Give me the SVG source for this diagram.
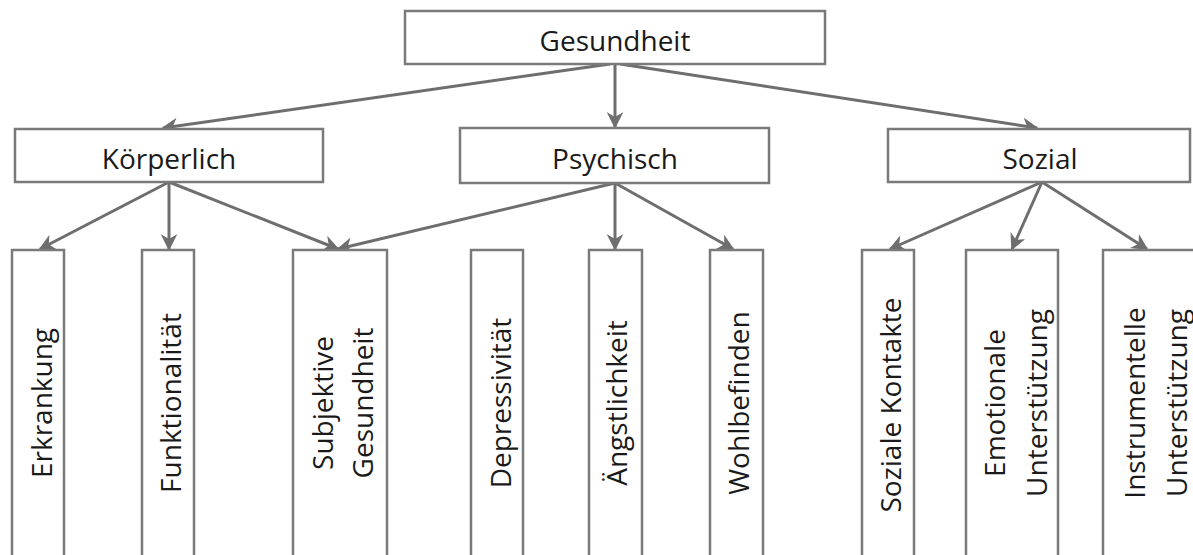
<svg xmlns="http://www.w3.org/2000/svg" width="1193" height="555" viewBox="0 0 1193 555">
<style>
.box{fill:#fff;stroke:#7a7a7a;stroke-width:2.5}
.t{font-family:"Open Sans","DejaVu Sans",sans-serif;font-size:28px;fill:#1a1a1a;text-anchor:middle;dominant-baseline:central}
.c{stroke:#6e6e6e;stroke-width:3;fill:none;marker-end:url(#ah)}
</style>
<defs>
<marker id="ah" viewBox="0 0 10 10" refX="9" refY="5" markerWidth="5.5" markerHeight="5.5" orient="auto" markerUnits="strokeWidth">
<path d="M0,0 L10,5 L0,10 L3,5 Z" fill="#6e6e6e"/>
</marker>
</defs>
<rect width="1193" height="555" fill="#fff"/>
<g id="connectors">
<line class="c" x1="615" y1="64" x2="615" y2="127"/>
<line class="c" x1="610" y1="64" x2="163" y2="128"/>
<line class="c" x1="620" y1="64" x2="1037" y2="128"/>
<line class="c" x1="169" y1="182" x2="40" y2="249"/>
<line class="c" x1="169" y1="182" x2="169" y2="249"/>
<line class="c" x1="169" y1="182" x2="338" y2="249"/>
<line class="c" x1="615" y1="183" x2="338" y2="249"/>
<line class="c" x1="615" y1="183" x2="615" y2="249"/>
<line class="c" x1="615" y1="183" x2="733" y2="249"/>
<line class="c" x1="1042" y1="182" x2="890" y2="249"/>
<line class="c" x1="1042" y1="182" x2="1012" y2="249"/>
<line class="c" x1="1042" y1="182" x2="1147" y2="249"/>
</g>
<g id="gesundheit"><rect class="box" x="405" y="11" width="420" height="53"/><text class="t" x="615" y="40">Gesundheit</text></g>
<g id="koerperlich"><rect class="box" x="15" y="129" width="308" height="53"/><text class="t" x="169" y="158">Körperlich</text></g>
<g id="psychisch"><rect class="box" x="460" y="128" width="309" height="55"/><text class="t" x="615" y="158">Psychisch</text></g>
<g id="sozial"><rect class="box" x="888" y="129" width="302" height="53"/><text class="t" x="1040" y="158">Sozial</text></g>
<g id="erkrankung"><rect class="box" x="12" y="250" width="52" height="320"/><text class="t" transform="translate(41,403) rotate(-90)">Erkrankung</text></g>
<g id="funktionalitaet"><rect class="box" x="142" y="250" width="52" height="320"/><text class="t" transform="translate(170,403) rotate(-90)">Funktionalität</text></g>
<g id="subjektive"><rect class="box" x="293" y="250" width="94" height="320"/><text class="t" transform="translate(322,403) rotate(-90)">Subjektive</text><text class="t" transform="translate(362,403) rotate(-90)">Gesundheit</text></g>
<g id="depressivitaet"><rect class="box" x="471" y="250" width="52" height="320"/><text class="t" transform="translate(500,403) rotate(-90)">Depressivität</text></g>
<g id="aengstlichkeit"><rect class="box" x="589" y="250" width="53" height="320"/><text class="t" transform="translate(616,403) rotate(-90)">Ängstlichkeit</text></g>
<g id="wohlbefinden"><rect class="box" x="710" y="250" width="53" height="320"/><text class="t" transform="translate(738,403) rotate(-90)">Wohlbefinden</text></g>
<g id="sozialekontakte"><rect class="box" x="862" y="250" width="52" height="320"/><text class="t" transform="translate(890,405) rotate(-90)">Soziale Kontakte</text></g>
<g id="emotionale"><rect class="box" x="966" y="250" width="92" height="320"/><text class="t" transform="translate(994,403) rotate(-90)">Emotionale</text><text class="t" transform="translate(1036,403) rotate(-90)">Unterstützung</text></g>
<g id="instrumentelle"><rect class="box" x="1103" y="250" width="110" height="320"/><text class="t" transform="translate(1134,403) rotate(-90)">Instrumentelle</text><text class="t" transform="translate(1176,403) rotate(-90)">Unterstützung</text></g>
</svg>
